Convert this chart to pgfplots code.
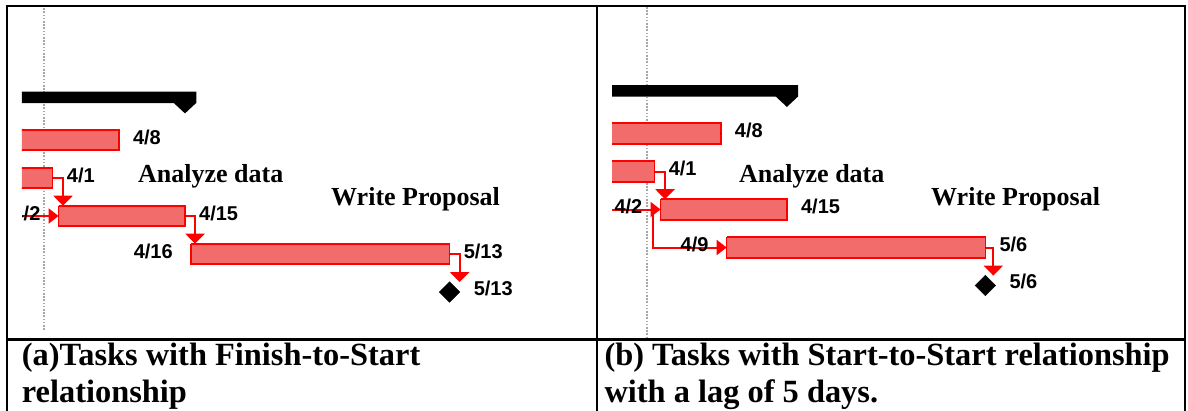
\documentclass[border=0pt]{standalone}
\usepackage{fontspec}
\setmainfont{Liberation Serif}
\newfontfamily\labfont{Liberation Sans}
\usepackage{pgfplots}
\pgfplotsset{compat=1.18}
\usetikzlibrary{arrows.meta}
\definecolor{barfill}{RGB}{242,108,108}
\definecolor{barline}{RGB}{255,0,0}

\pgfplotsset{
  gantt/.style={hide axis, clip=true, anchor=north west, x=9.45pt, y=38pt, y dir=reverse},
  taskbar/.style={draw=barline, fill=barfill, line width=1.6pt, mark=none, line join=miter},
  summary/.style={draw=none, fill=black, mark=none},
  link/.style={barline, line width=2pt, mark=none, -{Triangle[width=15pt,length=10pt]}},
  downlink/.style={barline, line width=2pt, mark=none, -{Triangle[width=19pt,length=10pt]}},
  today/.style={color=gray!70, line width=2pt, dash pattern=on 1.6pt off 1.6pt, mark=none},
  milestone/.style={only marks, mark=square*, mark size=7.3pt, mark options={rotate=45, fill=black, draw=black}},
  datelab/.style={only marks, mark=*, mark size=0.01pt, mark options={draw=none, fill=none},
    nodes near coords, point meta=explicit symbolic,
    every node near coord/.append style={font={\labfont\bfseries\fontsize{20}{20}\selectfont}, text=black, inner sep=0pt}},
  finlab/.style={datelab, every node near coord/.append style={anchor=base west, xshift=14pt, yshift=-4pt}},
  startlab/.style={datelab, every node near coord/.append style={anchor=base east, xshift=-18pt, yshift=-4pt}},
  mslab/.style={datelab, every node near coord/.append style={anchor=base west, xshift=24pt, yshift=-3pt}},
}

\begin{document}
\begin{tikzpicture}
\useasboundingbox (0pt,0pt) rectangle (1188pt,-411pt);

% ---------------- (a) Finish-to-Start ----------------
\begin{axis}[gantt, at={(22pt,-7pt)}, xmin=-1.54, xmax=58.5, ymin=-2.5, ymax=6.158]
\addplot[today] coordinates {(0.8,-2.47) (0.8,6.0)};
\addplot[summary] coordinates {(-5,-0.27) (16.9,-0.27) (16.9,0.03) (16.87,0.03) (15.708,0.30) (14.54,0.03) (-5,0.03)};
\addplot[taskbar] coordinates {(-5,0.73) (8.708,0.73) (8.708,1.27) (-5,1.27) (-5,0.73)};
\addplot[taskbar] coordinates {(-5,1.73) (1.708,1.73) (1.708,2.27) (-5,2.27) (-5,1.73)};
\addplot[taskbar] coordinates {(2.333,2.73) (15.708,2.73) (15.708,3.27) (2.333,3.27) (2.333,2.73)};
\addplot[taskbar] coordinates {(16.333,3.73) (43.708,3.73) (43.708,4.27) (16.333,4.27) (16.333,3.73)};
\addplot[downlink] coordinates {(1.708,2) (2.80,2) (2.80,2.73)};
\addplot[link] coordinates {(-5,3) (2.333,3)};
\addplot[downlink] coordinates {(15.708,3) (16.77,3) (16.77,3.73)};
\addplot[downlink] coordinates {(43.708,4) (44.77,4) (44.77,4.74)};
\addplot[milestone] coordinates {(43.708,5)};
\addplot[finlab] table[meta=lab] {
x y lab
8.708 1 4/8
1.708 2 4/1
15.708 3 4/15
43.708 4 5/13
};
\addplot[startlab] table[meta=lab] {
x y lab
2.333 3 4/2
16.333 4 4/16
};
\addplot[mslab] table[meta=lab] {
x y lab
43.708 5 5/13
};
\end{axis}
% screenshot crop edge in (a): hides the start of the clipped "4/2"
\fill[white] (8.2pt,-195pt) rectangle (21.8pt,-232pt);

% ---------------- (b) Start-to-Start, lag 5 days ----------------
\begin{axis}[gantt, at={(612pt,-7pt)}, xmin=-2.80, xmax=57.3, ymin=-2.329, ymax=6.355]
\addplot[today] coordinates {(0.9,-2.329) (0.9,6.355)};
\addplot[summary] coordinates {(-5,-0.27) (16.9,-0.27) (16.9,0.03) (16.87,0.03) (15.708,0.30) (14.54,0.03) (-5,0.03)};
\addplot[taskbar] coordinates {(-5,0.73) (8.708,0.73) (8.708,1.27) (-5,1.27) (-5,0.73)};
\addplot[taskbar] coordinates {(-5,1.73) (1.708,1.73) (1.708,2.27) (-5,2.27) (-5,1.73)};
\addplot[taskbar] coordinates {(2.333,2.73) (15.708,2.73) (15.708,3.27) (2.333,3.27) (2.333,2.73)};
\addplot[taskbar] coordinates {(9.333,3.73) (36.708,3.73) (36.708,4.27) (9.333,4.27) (9.333,3.73)};
\addplot[downlink] coordinates {(1.708,2) (2.81,2) (2.81,2.73)};
\addplot[link] coordinates {(-5,3) (2.333,3)};
\addplot[link] coordinates {(1.54,3) (1.54,4) (9.333,4)};
\addplot[downlink] coordinates {(36.708,4) (37.55,4) (37.55,4.74)};
\addplot[milestone] coordinates {(36.708,5)};
\addplot[finlab] table[meta=lab] {
x y lab
8.708 1 4/8
1.708 2 4/1
15.708 3 4/15
36.708 4 5/6
};
\addplot[startlab] table[meta=lab] {
x y lab
2.333 3 4/2
9.333 4 4/9
};
\addplot[mslab] table[meta=lab] {
x y lab
36.708 5 5/6
};
\end{axis}

% table frame
\draw[line width=2.2pt] (6pt,-6pt) -- (1186pt,-6pt);
\draw[line width=2.2pt] (6pt,-339.5pt) -- (1186pt,-339.5pt);
\foreach \xx in {7,597,1185} \draw[line width=2.2pt] (\xx pt,-5pt) -- (\xx pt,-413pt);

% task names
\begin{scope}[every node/.style={anchor=base west, inner sep=0pt, font={\bfseries\fontsize{26}{26}\selectfont}}]
\node at (138pt,-183pt) {Analyze data};
\node at (331pt,-206pt) {Write Proposal};
\node at (739pt,-183pt) {Analyze data};
\node at (931pt,-206pt) {Write Proposal};
\end{scope}

% captions
\begin{scope}[every node/.style={anchor=base west, inner sep=0pt, font={\bfseries\fontsize{32.4}{36}\selectfont}}]
\node at (21.7pt,-366pt) {(a)Tasks with Finish-to-Start};
\node at (21.7pt,-402pt) {relationship};
\node at (604.3pt,-366pt) {(b) Tasks with Start-to-Start relationship};
\node at (604.3pt,-402pt) {with a lag of 5 days.};
\end{scope}
\end{tikzpicture}
\end{document}
